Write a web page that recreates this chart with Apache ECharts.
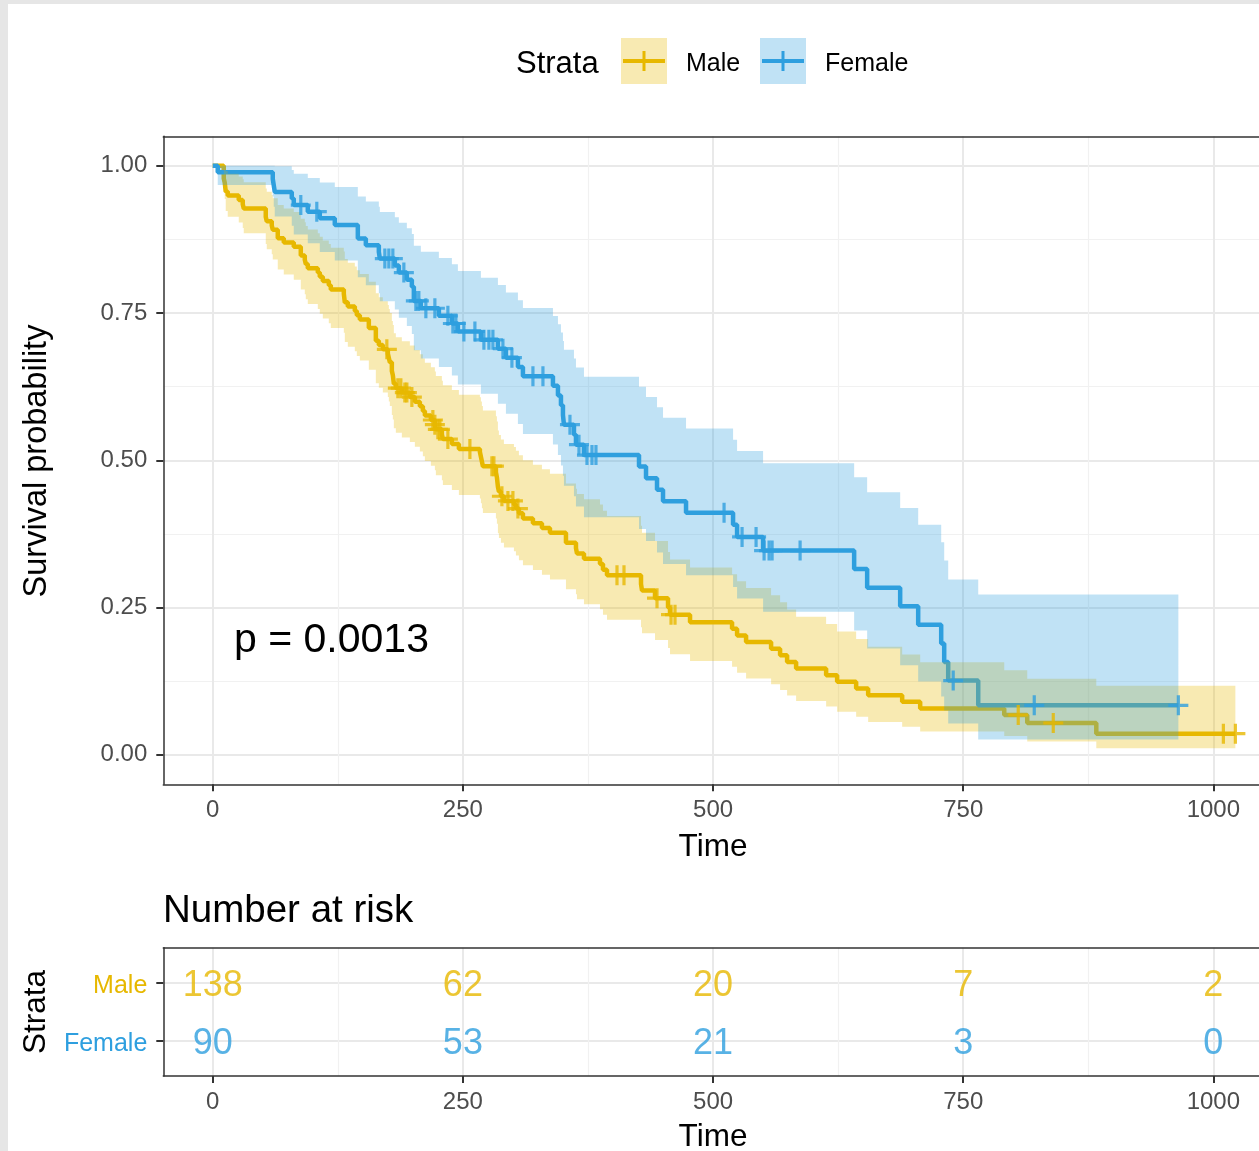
<!DOCTYPE html>
<html>
<head>
<meta charset="utf-8">
<title>Survival by sex</title>
<script src="https://cdn.jsdelivr.net/npm/echarts@6.0.0/dist/echarts.min.js"></script>
<style>
	html, body { margin: 0; padding: 0; background: #fff; }
	#chart { width: 1259px; height: 1151px; }
</style>
</head>
<body>
<div id="chart"></div>
<script>
// colours of the two strata
var maleColor = '#E7B800';
var femaleColor = '#2E9FDF';
var fontFamily = '"Liberation Sans", Arial, Helvetica, sans-serif';

// Male: step times, survival, 95% band
var maleTime = [0, 11, 12, 13, 15, 26, 30, 31, 53, 54, 59, 60, 65, 71, 81, 88, 92, 93, 95,
	105, 107, 110, 116, 118, 131, 132, 135, 142, 144, 147, 156, 163, 166, 170,
	175, 176, 177, 179, 180, 181, 183, 189, 197,
	202, 207, 210, 212, 218, 222, 223, 229, 230, 239, 246,
	267, 268, 269, 270, 283, 284, 285, 286, 288, 291,
	301, 303, 306, 310, 320, 329, 337, 353, 363, 364, 371, 387, 390, 394,
	428, 429, 442, 455, 457, 477,
	519, 524, 533, 558, 567, 574, 583,
	613, 624, 643, 655, 689, 707,
	791, 814, 883];
var maleSurv = [1, .9783, .9710, .9565, .9493, .9420, .9348, .9275, .9130, .9058, .8986, .8913, .8768, .8696, .8623, .8478, .8406, .8333, .8261,
	.8188, .8116, .8043, .7971, .7899, .7826, .7681, .7609, .7536, .7464, .7391, .7246, .7029, .6957, .6884,
	.6811, .6738, .6664, .6518, .6445, .6298, .6225, .6150, .6073,
	.5995, .5917, .5839, .5762, .5684, .5605, .5525, .5442, .5360, .5276, .5192,
	.514, .506, .498, .490, .480, .471, .455, .447, .439, .431,
	.425, .418, .410, .401, .393, .385, .377, .360, .351, .342, .333, .324, .314, .305,
	.290, .279, .266, .250, .238, .2252,
	.2140, .2027, .1915, .1802, .1689, .1577, .1464,
	.1351, .1239, .1126, .1013, .0901, .0788,
	.0676, .0541, .0360];
var maleLower = [1, .9542, .9434, .9231, .9134, .9038, .8945, .8853, .8672, .8583, .8496, .8409, .8237, .8152, .8067, .7900, .7817, .7734, .7652,
	.7570, .7489, .7408, .7328, .7247, .7167, .7008, .6929, .6851, .6772, .6694, .6538, .6306, .6230, .6153,
	.6076, .5999, .5922, .5770, .5694, .5542, .5466, .5388, .5309,
	.5228, .5148, .5068, .4988, .4909, .4829, .4747, .4663, .4579, .4494, .4409,
	.4351, .4269, .4188, .4107, .4010, .3921, .3760, .3680, .3601, .3521,
	.3458, .3386, .3305, .3217, .3137, .3057, .2978, .2813, .2726, .2641, .2555, .2471, .2378, .2294,
	.2164, .2064, .1950, .1814, .1709, .1595,
	.1494, .1394, .1296, .1198, .1101, .1007, .0914,
	.0822, .0733, .0645, .0559, .0476, .0395,
	.0318, .0226, .0110];
var maleUpper = [1, 1, .9994, .9911, .9866, .9818, .9769, .9718, .9612, .9559, .9504, .9448, .9334, .9276, .9217, .9099, .9039, .8979, .8918,
	.8856, .8795, .8733, .8671, .8609, .8545, .8418, .8355, .8290, .8226, .8161, .8031, .7834, .7769, .7702,
	.7635, .7568, .7499, .7364, .7296, .7158, .7090, .7020, .6947,
	.6874, .6801, .6728, .6655, .6581, .6506, .6430, .6352, .6274, .6194, .6114,
	.6072, .5997, .5921, .5846, .5746, .5657, .5505, .5429, .5352, .5275,
	.5224, .5160, .5086, .4999, .4924, .4848, .4773, .4608, .4519, .4429, .4339, .4249, .4145, .4054,
	.3887, .3771, .3628, .3445, .3314, .3179,
	.3064, .2947, .2831, .2711, .2590, .2469, .2346,
	.2220, .2095, .1967, .1836, .1705, .1570,
	.1435, .1293, .1175];
var maleEnd = 1022;
var maleCensor = [174, 185, 188, 192, 194, 199, 220, 222, 225, 227, 235, 257, 279, 281, 289, 295, 300, 305,
	404, 411, 444, 458, 462, 805, 840, 1010, 1022];

// Female: step times, survival, 95% band
var femaleTime = [0, 5, 60, 61, 62, 79, 81, 95, 107, 122, 145,
	153, 166, 167, 182, 186, 194, 199, 201, 208, 226,
	239, 245, 268, 285, 293, 305, 310, 340, 345, 348,
	350, 351, 361, 363, 371, 426, 433, 444, 450, 473,
	520, 524, 550, 641, 654, 687, 705, 728, 731, 735,
	765];
var femaleSurv = [1, .9889, .9778, .9667, .9556, .9444, .9333, .9221, .9107, .8993, .8766,
	.8652, .8538, .8424, .8305, .8187, .8066, .7946, .7705, .7581, .7452,
	.7322, .7186, .7045, .6895, .6742, .6585, .6428, .6264, .6099, .5934,
	.5769, .5604, .5434, .5265, .5089, .4893, .4697, .4501, .4306, .4110,
	.3905, .3699, .3468, .3153, .2838, .2522, .2207, .1892, .1576, .1261,
	.0841];
var femaleLower = [1, .9675, .9478, .9303, .9140, .8982, .8832, .8683, .8535, .8390, .8109,
	.7970, .7834, .7699, .7558, .7420, .7280, .7142, .6869, .6729, .6584,
	.6438, .6287, .6129, .5961, .5791, .5618, .5446, .5267, .5089, .4913,
	.4738, .4566, .4389, .4215, .4035, .3832, .3632, .3434, .3241, .3050,
	.2850, .2653, .2430, .2110, .1807, .1519, .1247, .0992, .0753, .0534,
	.0260];
var femaleUpper = [1, 1, 1, 1, .9991, .9929, .9863, .9792, .9717, .9639, .9477,
	.9392, .9305, .9217, .9125, .9033, .8937, .8841, .8643, .8541, .8434,
	.8327, .8214, .8098, .7975, .7849, .7719, .7587, .7450, .7310, .7168,
	.7024, .6878, .6727, .6576, .6419, .6248, .6075, .5899, .5721, .5539,
	.5350, .5157, .4949, .4711, .4458, .4189, .3906, .3610, .3298, .2976,
	.2720];
var femaleEnd = 965;
var femaleCensor = [88, 104, 172, 176, 180, 191, 203, 206, 213, 222, 235, 240, 243, 251, 262, 271, 276, 280,
	290, 299, 320, 330, 357, 366, 374, 379, 383, 511, 529, 543, 551, 556, 559, 587, 740, 821, 965];

// number at risk table
var riskTimes = [0, 250, 500, 750, 1000];
var riskMale = [138, 62, 20, 7, 2];
var riskFemale = [90, 53, 21, 3, 0];

// axis ticks
var xTicks = [0, 250, 500, 750, 1000];
var xMinor = [125, 375, 625, 875];
var yTicks = [0, 0.25, 0.5, 0.75, 1];
var yTickLabels = ['0.00', '0.25', '0.50', '0.75', '1.00'];
var yMinor = [0.125, 0.375, 0.625, 0.875];

// visible part of the time axis (the panel runs past the right edge)
var xMin = -49.4;
var xMax = 1045.6;

/**
 * survival value of a curve at time t (for censor marks)
 */
function survAt(times, surv, t) {
	var s = 1;
	for (var i = 0; i < times.length; i++) {
		if (times[i] <= t) {
			s = surv[i];
		}
	}
	return s;
}

function stepData(times, surv, endTime) {
	var d = [];
	for (var i = 0; i < times.length; i++) {
		d.push([times[i], surv[i]]);
	}
	d.push([endTime, surv[surv.length - 1]]);
	return d;
}

function censorData(times, surv, censor) {
	var d = [];
	for (var i = 0; i < censor.length; i++) {
		d.push([censor[i], survAt(times, surv, censor[i])]);
	}
	return d;
}

/**
 * confidence band drawn as one step-shaped polygon
 */
function bandSeries(times, lower, upper, endTime, color) {
	return {
		type: 'custom',
		xAxisIndex: 0,
		yAxisIndex: 0,
		z: 3,
		silent: true,
		data: [[0, 0]],
		renderItem: function(params, api) {
			var pts = [];
			var i, tNext;
			for (i = 0; i < times.length; i++) {
				tNext = i + 1 < times.length ? times[i + 1] : endTime;
				pts.push(api.coord([times[i], upper[i]]));
				pts.push(api.coord([tNext, upper[i]]));
			}
			for (i = times.length - 1; i >= 0; i--) {
				tNext = i + 1 < times.length ? times[i + 1] : endTime;
				pts.push(api.coord([tNext, lower[i]]));
				pts.push(api.coord([times[i], lower[i]]));
			}
			return {
				type: 'polygon',
				shape: { points: pts },
				style: { fill: color, opacity: 0.3 }
			};
		}
	};
}

var plusPath = 'path://M-1.6,-10H1.6V-1.6H10V1.6H1.6V10H-1.6V1.6H-10V-1.6H-1.6Z';

function censorSeries(data, color) {
	return {
		type: 'scatter',
		xAxisIndex: 0,
		yAxisIndex: 0,
		z: 4,
		silent: true,
		symbol: plusPath,
		symbolSize: 20,
		itemStyle: { color: color },
		data: data
	};
}

function riskSeries(values, row, color) {
	var d = [];
	for (var i = 0; i < riskTimes.length; i++) {
		d.push([riskTimes[i], row, values[i]]);
	}
	return {
		type: 'scatter',
		xAxisIndex: 2,
		yAxisIndex: 2,
		silent: true,
		symbolSize: 1,
		itemStyle: { color: 'rgba(0,0,0,0)' },
		label: {
			show: true,
			position: 'inside',
			offset: [0, 3],
			fontSize: 36,
			fontFamily: fontFamily,
			color: color,
			formatter: function(p) { return p.value[2]; }
		},
		data: d
	};
}

var borderStyle = { color: '#333', width: 1.5 };

function majorX(gridIndex) {
	return {
		gridIndex: gridIndex,
		type: 'value',
		min: xMin,
		max: xMax,
		axisLine: { show: true, onZero: false, lineStyle: borderStyle },
		axisTick: { show: true, customValues: xTicks, length: 7, lineStyle: { color: '#333', width: 2 } },
		axisLabel: {
			customValues: xTicks,
			fontSize: 24,
			fontFamily: fontFamily,
			color: '#4d4d4d',
			margin: 14,
			formatter: function(v) { return String(v); }
		},
		splitLine: { show: true, lineStyle: { color: '#e9e9e9', width: 2 } }
	};
}

// second x axis only carries the minor grid and the top border
function minorX(gridIndex) {
	return {
		gridIndex: gridIndex,
		type: 'value',
		position: 'top',
		min: xMin,
		max: xMax,
		axisLine: { show: true, onZero: false, lineStyle: borderStyle },
		axisTick: { show: false, customValues: xMinor },
		axisLabel: { show: false, customValues: xMinor },
		splitLine: { show: true, lineStyle: { color: '#f1f1f1', width: 1.2 } }
	};
}

function text(x, y, str, size, opts) {
	opts = opts || {};
	return {
		type: 'text',
		x: x,
		y: y,
		rotation: opts.rotation || 0,
		z: 50,
		style: {
			text: str,
			fontSize: size,
			fontFamily: fontFamily,
			fill: opts.color || '#000',
			align: opts.align || 'center',
			verticalAlign: 'middle'
		}
	};
}

var chart = echarts.init(document.getElementById('chart'));

chart.setOption({
	backgroundColor: '#fff',
	animation: false,
	grid: [{
		left: 163.3,
		top: 136.3,
		right: 0,
		bottom: 366.7
	}, {
		left: 163.3,
		top: 947.7,
		right: 0,
		bottom: 75
	}],
	xAxis: [majorX(0), minorX(0), majorX(1), minorX(1)],
	yAxis: [{
		gridIndex: 0,
		type: 'value',
		min: -0.05,
		max: 1.05,
		axisLine: { show: true, onZero: false, lineStyle: borderStyle },
		axisTick: { show: true, customValues: yTicks, length: 7, lineStyle: { color: '#333', width: 2 } },
		axisLabel: {
			customValues: yTicks,
			fontSize: 24,
			fontFamily: fontFamily,
			color: '#4d4d4d',
			margin: 16,
			formatter: function(v) { return yTickLabels[yTicks.indexOf(v)] || v.toFixed(2); }
		},
		splitLine: { show: true, lineStyle: { color: '#e9e9e9', width: 2 } }
	}, {
		gridIndex: 0,
		type: 'value',
		position: 'right',
		min: -0.05,
		max: 1.05,
		axisLine: { show: false, onZero: false },
		axisTick: { show: false, customValues: yMinor },
		axisLabel: { show: false, customValues: yMinor },
		splitLine: { show: true, lineStyle: { color: '#f1f1f1', width: 1.2 } }
	}, {
		gridIndex: 1,
		type: 'value',
		min: 0.4,
		max: 2.6,
		axisLine: { show: true, onZero: false, lineStyle: borderStyle },
		axisTick: { show: true, customValues: [1, 2], length: 7, lineStyle: { color: '#333', width: 2 } },
		axisLabel: {
			customValues: [1, 2],
			margin: 16,
			formatter: function(v) { return v == 2 ? '{m|Male}' : '{f|Female}'; },
			rich: {
				m: { fontSize: 25, fontFamily: fontFamily, color: maleColor, padding: [6, 0, 0, 0] },
				f: { fontSize: 25, fontFamily: fontFamily, color: femaleColor, padding: [6, 0, 0, 0] }
			}
		},
		splitLine: { show: true, lineStyle: { color: '#e9e9e9', width: 2 } }
	}],
	series: [{
		type: 'line',
		xAxisIndex: 0,
		yAxisIndex: 0,
		z: 2,
		step: 'end',
		showSymbol: false,
		silent: true,
		lineStyle: { color: maleColor, width: 4.5 },
		data: stepData(maleTime, maleSurv, maleEnd)
	}, {
		type: 'line',
		xAxisIndex: 0,
		yAxisIndex: 0,
		z: 2,
		step: 'end',
		showSymbol: false,
		silent: true,
		lineStyle: { color: femaleColor, width: 4.5 },
		data: stepData(femaleTime, femaleSurv, femaleEnd)
	},
		bandSeries(maleTime, maleLower, maleUpper, maleEnd, maleColor),
		bandSeries(femaleTime, femaleLower, femaleUpper, femaleEnd, femaleColor),
		censorSeries(censorData(maleTime, maleSurv, maleCensor), maleColor),
		censorSeries(censorData(femaleTime, femaleSurv, femaleCensor), femaleColor),
		riskSeries(riskMale, 2, maleColor),
		riskSeries(riskFemale, 1, femaleColor)
	],
	graphic: [
		// grey page edge
		{ type: 'rect', z: 60, shape: { x: 0, y: 0, width: 8, height: 1151 }, style: { fill: '#e6e6e6' } },
		{ type: 'rect', z: 60, shape: { x: 0, y: 0, width: 1259, height: 4 }, style: { fill: '#e6e6e6' } },
		// legend
		text(516, 64, 'Strata', 31, { align: 'left' }),
		{ type: 'rect', z: 50, shape: { x: 621, y: 38, width: 46, height: 46 }, style: { fill: 'rgba(231,184,0,0.3)' } },
		{ type: 'line', z: 51, shape: { x1: 623, y1: 61, x2: 665, y2: 61 }, style: { stroke: maleColor, lineWidth: 4 } },
		{ type: 'line', z: 51, shape: { x1: 644, y1: 51, x2: 644, y2: 71 }, style: { stroke: maleColor, lineWidth: 3 } },
		text(686, 64, 'Male', 25, { align: 'left' }),
		{ type: 'rect', z: 50, shape: { x: 760, y: 38, width: 46, height: 46 }, style: { fill: 'rgba(46,159,223,0.3)' } },
		{ type: 'line', z: 51, shape: { x1: 762, y1: 61, x2: 804, y2: 61 }, style: { stroke: femaleColor, lineWidth: 4 } },
		{ type: 'line', z: 51, shape: { x1: 783, y1: 51, x2: 783, y2: 71 }, style: { stroke: femaleColor, lineWidth: 3 } },
		text(825, 64, 'Female', 25, { align: 'left' }),
		// titles
		text(37, 461, 'Survival probability', 32.5, { rotation: Math.PI / 2 }),
		text(713, 847, 'Time', 31.5),
		text(234, 641, 'p = 0.0013', 41, { align: 'left' }),
		text(163, 911, 'Number at risk', 38.5, { align: 'left' }),
		text(36, 1012, 'Strata', 31.5, { rotation: Math.PI / 2 }),
		text(713, 1137, 'Time', 31.5)
	]
});
</script>
</body>
</html>
